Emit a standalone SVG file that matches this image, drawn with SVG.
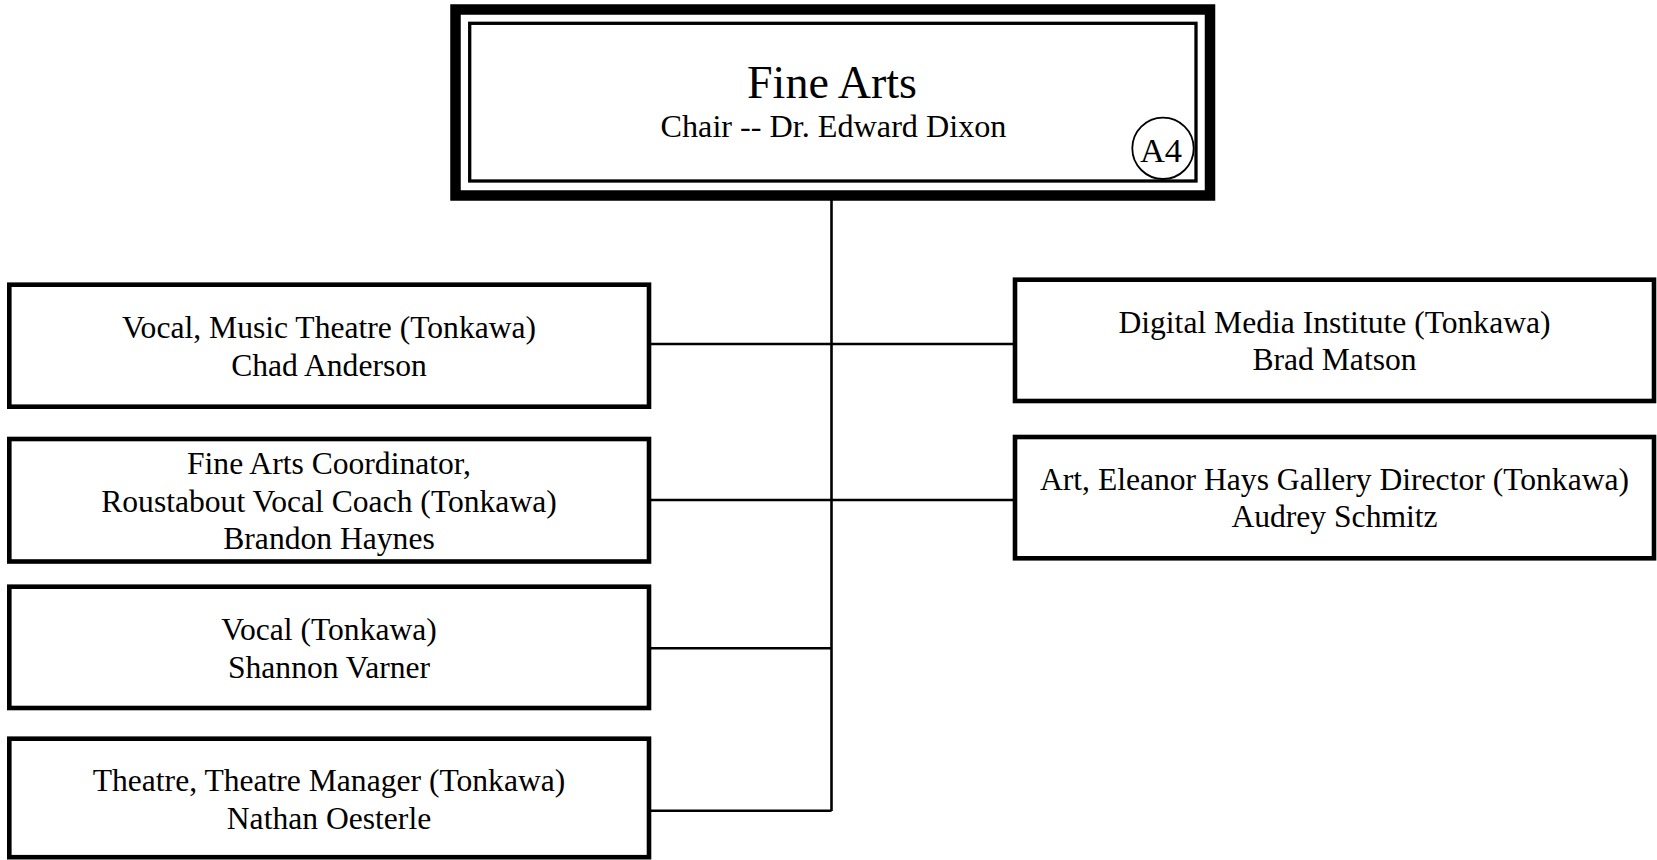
<svg xmlns="http://www.w3.org/2000/svg" width="1657" height="860" viewBox="0 0 1657 860">
<style>
text{font-family:"Liberation Serif","Times New Roman",serif;fill:#000;text-anchor:middle}
.t{font-size:31.6px}
.box{fill:#fff;stroke:#000;stroke-width:4.6}
.ln{fill:none;stroke:#000;stroke-width:2.6}
</style>
<rect width="1657" height="860" fill="#fff"/>
<g id="connectors">
<line class="ln" x1="831.5" y1="200" x2="831.5" y2="811"/>
<line class="ln" x1="649" y1="344" x2="1015" y2="344"/>
<line class="ln" x1="649" y1="500" x2="1015" y2="500"/>
<line class="ln" x1="649" y1="648.3" x2="831.5" y2="648.3"/>
<line class="ln" x1="649" y1="810.7" x2="831.5" y2="810.7"/>
</g>
<g id="fine-arts">
<rect x="455.5" y="9.5" width="754.5" height="186" fill="#fff" stroke="#000" stroke-width="10.5"/>
<rect x="469.7" y="23.3" width="726.3" height="157.7" fill="none" stroke="#000" stroke-width="3.3"/>
<text x="832" y="98.3" style="font-size:46px">Fine Arts</text>
<text x="833.5" y="137.3" style="font-size:32.2px">Chair -- Dr. Edward Dixon</text>
<circle cx="1163" cy="148.3" r="30.7" fill="#fff" stroke="#000" stroke-width="1.8"/>
<text x="1161" y="161.7" style="font-size:34.5px">A4</text>
</g>
<g id="vocal-music-theatre">
<rect class="box" x="9.3" y="284.7" width="639.7" height="122"/>
<text x="329" y="338.3" class="t">Vocal, Music Theatre (Tonkawa)</text>
<text x="329" y="376" class="t">Chad Anderson</text>
</g>
<g id="fine-arts-coordinator">
<rect class="box" x="9.3" y="439" width="639.7" height="122.5"/>
<text x="329" y="474" class="t">Fine Arts Coordinator,</text>
<text x="329" y="511.7" class="t">Roustabout Vocal Coach (Tonkawa)</text>
<text x="329" y="549.3" class="t">Brandon Haynes</text>
</g>
<g id="vocal">
<rect class="box" x="9.3" y="586.7" width="639.7" height="121.3"/>
<text x="329" y="640" class="t">Vocal (Tonkawa)</text>
<text x="329" y="678.3" class="t">Shannon Varner</text>
</g>
<g id="theatre">
<rect class="box" x="9.3" y="738.7" width="639.7" height="118.5"/>
<text x="329" y="790.7" class="t">Theatre, Theatre Manager (Tonkawa)</text>
<text x="329" y="829.3" class="t">Nathan Oesterle</text>
</g>
<g id="digital-media">
<rect class="box" x="1015" y="279.7" width="639" height="121.3"/>
<text x="1334.5" y="333.3" class="t">Digital Media Institute (Tonkawa)</text>
<text x="1334.5" y="370" class="t">Brad Matson</text>
</g>
<g id="art-gallery">
<rect class="box" x="1015" y="437" width="639" height="121.3"/>
<text x="1334.5" y="490" class="t">Art, Eleanor Hays Gallery Director (Tonkawa)</text>
<text x="1334.5" y="526.7" class="t">Audrey Schmitz</text>
</g>
</svg>
